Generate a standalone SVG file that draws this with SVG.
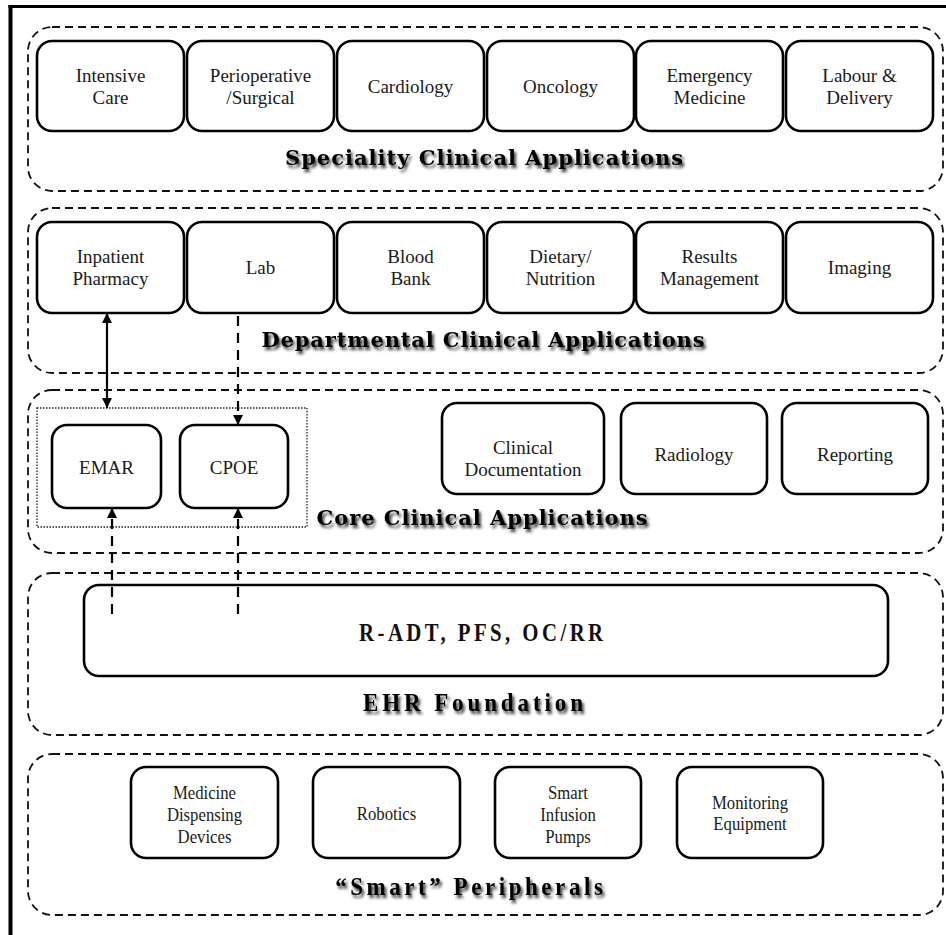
<svg xmlns="http://www.w3.org/2000/svg" width="946" height="935" viewBox="0 0 946 935">
  <defs>
    <filter id="shadow" x="-10%" y="-40%" width="120%" height="200%">
      <feGaussianBlur in="SourceAlpha" stdDeviation="1.8"/>
      <feOffset dx="2" dy="2.5" result="b"/>
      <feComponentTransfer><feFuncA type="linear" slope="0.8"/></feComponentTransfer>
      <feMerge><feMergeNode/><feMergeNode in="SourceGraphic"/></feMerge>
    </filter>
    <marker id="head" viewBox="0 0 10 10" refX="10" refY="5" markerWidth="10" markerHeight="10" markerUnits="userSpaceOnUse" orient="auto-start-reverse">
      <path d="M0,0 L10,5 L0,10 Z" fill="#000"/>
    </marker>
  </defs>
  <style>
    .layer { fill: none; stroke: #111; stroke-width: 1.8; stroke-dasharray: 8 5; }
    .box { fill: #fff; stroke: #000; stroke-width: 2.6; }
    .lbl { font-family: "Liberation Serif", "Times New Roman", serif; font-size: 19px; fill: #1a1a1a; text-anchor: middle; }
    .narrow { transform-box: fill-box; transform-origin: center; transform: scaleX(0.88); }
    .condensed { transform-box: fill-box; transform-origin: center; transform: scaleX(0.92); }
    .tall { transform-box: fill-box; transform-origin: center; transform: scaleX(0.8); }
    .title { font-family: "DejaVu Serif", "Liberation Serif", serif; font-weight: bold; font-size: 21px; fill: #000; text-anchor: middle; filter: url(#shadow); }
    .title2 { font-family: "Liberation Serif", "Times New Roman", serif; font-weight: bold; font-size: 25px; fill: #000; text-anchor: middle; filter: url(#shadow); }
    .core { font-family: "Liberation Serif", "Times New Roman", serif; font-weight: bold; font-size: 26px; fill: #111; text-anchor: middle; }
    .solid { stroke: #000; stroke-width: 2.2; fill: none; }
    .dash { stroke: #000; stroke-width: 2.2; fill: none; stroke-dasharray: 10 7; }
  </style>

  <rect width="946" height="935" fill="#fff"/>
  <!-- page frame -->
  <line x1="10.5" y1="5" x2="10.5" y2="935" stroke="#000" stroke-width="4"/>
  <line x1="8.5" y1="6.5" x2="946" y2="6.5" stroke="#000" stroke-width="3"/>

  <!-- Speciality Clinical Applications -->
  <g id="layer-speciality">
    <rect class="layer" x="28" y="27" width="915" height="164" rx="24"/>
    <text class="title" x="484" y="165" textLength="398" lengthAdjust="spacing">Speciality Clinical Applications</text>
  </g>
  <g id="intensive-care">
    <rect class="box" x="37" y="41" width="147" height="90" rx="15"/>
    <text class="lbl" x="110.5" y="82">Intensive</text>
    <text class="lbl" x="110.5" y="104">Care</text>
  </g>
  <g id="perioperative">
    <rect class="box" x="187" y="41" width="147" height="90" rx="15"/>
    <text class="lbl" x="260.5" y="82">Perioperative</text>
    <text class="lbl" x="260.5" y="104">/Surgical</text>
  </g>
  <g id="cardiology">
    <rect class="box" x="337" y="41" width="147" height="90" rx="15"/>
    <text class="lbl" x="410.5" y="93">Cardiology</text>
  </g>
  <g id="oncology">
    <rect class="box" x="487" y="41" width="147" height="90" rx="15"/>
    <text class="lbl" x="560.5" y="93">Oncology</text>
  </g>
  <g id="emergency-medicine">
    <rect class="box" x="636" y="41" width="147" height="90" rx="15"/>
    <text class="lbl" x="709.5" y="82">Emergency</text>
    <text class="lbl" x="709.5" y="104">Medicine</text>
  </g>
  <g id="labour-delivery">
    <rect class="box" x="786" y="41" width="147" height="90" rx="15"/>
    <text class="lbl" x="859.5" y="82">Labour &amp;</text>
    <text class="lbl" x="859.5" y="104">Delivery</text>
  </g>

  <!-- Departmental Clinical Applications -->
  <g id="layer-departmental">
    <rect class="layer" x="28" y="208" width="915" height="165" rx="24"/>
    <text class="title" x="483" y="347" textLength="443" lengthAdjust="spacing">Departmental Clinical Applications</text>
  </g>
  <g id="inpatient-pharmacy">
    <rect class="box" x="37" y="222" width="147" height="91" rx="15"/>
    <text class="lbl" x="110.5" y="263">Inpatient</text>
    <text class="lbl" x="110.5" y="285">Pharmacy</text>
  </g>
  <g id="lab">
    <rect class="box" x="187" y="222" width="147" height="91" rx="15"/>
    <text class="lbl" x="260.5" y="274">Lab</text>
  </g>
  <g id="blood-bank">
    <rect class="box" x="337" y="222" width="147" height="91" rx="15"/>
    <text class="lbl" x="410.5" y="263">Blood</text>
    <text class="lbl" x="410.5" y="285">Bank</text>
  </g>
  <g id="dietary-nutrition">
    <rect class="box" x="487" y="222" width="147" height="91" rx="15"/>
    <text class="lbl" x="560.5" y="263">Dietary/</text>
    <text class="lbl" x="560.5" y="285">Nutrition</text>
  </g>
  <g id="results-management">
    <rect class="box" x="636" y="222" width="147" height="91" rx="15"/>
    <text class="lbl" x="709.5" y="263">Results</text>
    <text class="lbl" x="709.5" y="285">Management</text>
  </g>
  <g id="imaging">
    <rect class="box" x="786" y="222" width="147" height="91" rx="15"/>
    <text class="lbl" x="859.5" y="274">Imaging</text>
  </g>

  <!-- Core Clinical Applications -->
  <g id="layer-core">
    <rect class="layer" x="28" y="390" width="915" height="163" rx="24"/>
    <rect x="37" y="408" width="270" height="119" fill="none" stroke="#222" stroke-width="1.3" stroke-dasharray="1.5 1.5"/>
    <text class="title" x="482" y="525" textLength="331" lengthAdjust="spacing">Core Clinical Applications</text>
  </g>
  <g id="emar">
    <rect class="box" x="52" y="425" width="109" height="83" rx="15"/>
    <text class="lbl" x="106.5" y="474">EMAR</text>
  </g>
  <g id="cpoe">
    <rect class="box" x="180" y="425" width="108" height="83" rx="15"/>
    <text class="lbl" x="234" y="474">CPOE</text>
  </g>
  <g id="clinical-documentation">
    <rect class="box" x="442" y="403" width="162" height="91" rx="15"/>
    <text class="lbl" x="523" y="454">Clinical</text>
    <text class="lbl" x="523" y="476">Documentation</text>
  </g>
  <g id="radiology">
    <rect class="box" x="621" y="403" width="146" height="91" rx="15"/>
    <text class="lbl" x="694" y="461">Radiology</text>
  </g>
  <g id="reporting">
    <rect class="box" x="782" y="403" width="146" height="91" rx="15"/>
    <text class="lbl" x="855" y="461">Reporting</text>
  </g>

  <!-- EHR Foundation -->
  <g id="layer-ehr">
    <rect class="layer" x="28" y="573" width="915" height="162" rx="24"/>
    <text class="title2 condensed" x="473" y="711" textLength="239" lengthAdjust="spacing">EHR Foundation</text>
  </g>
  <g id="ehr-core">
    <rect class="box" x="84" y="585" width="804" height="91" rx="15"/>
    <text class="core tall" x="481" y="641" textLength="305" lengthAdjust="spacing">R-ADT, PFS, OC/RR</text>
  </g>

  <!-- "Smart" Peripherals -->
  <g id="layer-peripherals">
    <rect class="layer" x="28" y="754" width="915" height="161" rx="24"/>
    <text class="title2 condensed" x="469" y="895" textLength="291" lengthAdjust="spacing">“Smart” Peripherals</text>
  </g>
  <g id="medicine-dispensing">
    <rect class="box" x="131" y="767" width="147" height="91" rx="15"/>
    <text class="lbl narrow" x="204.5" y="799">Medicine</text>
    <text class="lbl narrow" x="204.5" y="821">Dispensing</text>
    <text class="lbl narrow" x="204.5" y="843">Devices</text>
  </g>
  <g id="robotics">
    <rect class="box" x="313" y="767" width="147" height="91" rx="15"/>
    <text class="lbl narrow" x="386.5" y="820">Robotics</text>
  </g>
  <g id="smart-infusion-pumps">
    <rect class="box" x="495" y="767" width="146" height="91" rx="15"/>
    <text class="lbl narrow" x="568" y="799">Smart</text>
    <text class="lbl narrow" x="568" y="821">Infusion</text>
    <text class="lbl narrow" x="568" y="843">Pumps</text>
  </g>
  <g id="monitoring-equipment">
    <rect class="box" x="677" y="767" width="146" height="91" rx="15"/>
    <text class="lbl narrow" x="750" y="809">Monitoring</text>
    <text class="lbl narrow" x="750" y="830">Equipment</text>
  </g>

  <!-- connectors -->
  <g id="connectors">
    <line class="solid" x1="107" y1="313" x2="107" y2="408" marker-start="url(#head)" marker-end="url(#head)"/>
    <line class="dash" x1="238" y1="316" x2="238" y2="425" marker-end="url(#head)"/>
    <line class="dash" x1="112" y1="614" x2="112" y2="508" marker-end="url(#head)"/>
    <line class="dash" x1="238" y1="614" x2="238" y2="508" marker-end="url(#head)"/>
  </g>
</svg>
